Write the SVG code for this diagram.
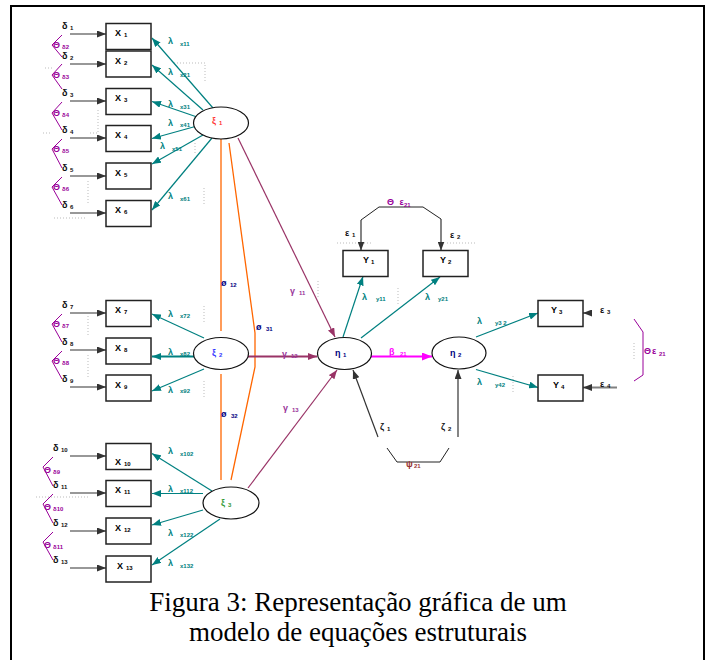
<svg xmlns="http://www.w3.org/2000/svg" width="706" height="660" viewBox="0 0 706 660">
<defs>
<style>
.t{font-family:"Liberation Sans",Arial,sans-serif;font-weight:bold;font-size:9px}
.s{font-size:6px}
.box{fill:#fff;stroke:#222;stroke-width:1.5}
.ell{fill:#fff;stroke:#111;stroke-width:1.2}
.tl{stroke:#008080;stroke-width:1.2;fill:none}
.dk{stroke:#333;stroke-width:1.2;fill:none}
.gm{stroke:#993366;stroke-width:1.2;fill:none}
.or{stroke:#FF6600;stroke-width:1.3;fill:none}
.pu{stroke:#990099;stroke-width:1;fill:none}
.bl{stroke:#222;stroke-width:1;fill:none}
.dot{stroke:#bbb;stroke-width:1;stroke-dasharray:1 2;fill:none}
.ct{fill:#008080}
.cp{fill:#990099}
.cg{fill:#993399}
.cn{fill:#000080}
.cap{font-family:"Liberation Serif","Times New Roman",serif;font-size:27px;fill:#000}
</style>
<marker id="ht" markerUnits="userSpaceOnUse" markerWidth="9" markerHeight="7" refX="9" refY="3.5" orient="auto"><path d="M0,0 L9,3.5 L0,7 z" fill="#008080"/></marker>
<marker id="hd" markerUnits="userSpaceOnUse" markerWidth="9" markerHeight="7" refX="9" refY="3.5" orient="auto"><path d="M0,0 L9,3.5 L0,7 z" fill="#333"/></marker>
<marker id="hg" markerUnits="userSpaceOnUse" markerWidth="9" markerHeight="7" refX="9" refY="3.5" orient="auto"><path d="M0,0 L9,3.5 L0,7 z" fill="#993366"/></marker>
<marker id="hm" markerUnits="userSpaceOnUse" markerWidth="10" markerHeight="8" refX="10" refY="4" orient="auto"><path d="M0,0 L10,4 L0,8 z" fill="#FF00FF"/></marker>
</defs>
<rect width="706" height="660" fill="#fff"/>
<path d="M11,662 V6 H704 V662" fill="none" stroke="#000" stroke-width="2"/>

<g id="artifacts">
<path class="dot" d="M174,63 H205 V81"/>
<path class="dot" d="M45,68 H52"/>
<path class="dot" d="M98,110 V133 H88"/>
<path class="dot" d="M43,133 H52"/>
<path class="dot" d="M88,181 V204"/>
<path class="dot" d="M54,218 H86"/>
<path class="dot" d="M195,143 V155"/>
<path class="dot" d="M204,188 V205"/>
<path class="dot" d="M204,306 V323"/>
<path class="dot" d="M88,316 V335"/>
<path class="dot" d="M88,355 V378"/>
<path class="dot" d="M204,381 V398"/>
<path class="dot" d="M36,497 H88"/>
<path class="dot" d="M318,281 V299"/>
<path class="dot" d="M398,288 V304"/>
<path class="dot" d="M337,243 H372"/>
<path class="dot" d="M447,243 H475"/>
<path class="dot" d="M513,376 V393"/>
<path class="dot" d="M634,343 V360"/>
</g>

<g id="connectors">
<g class="dk" marker-end="url(#hd)">
<line x1="70" y1="34" x2="106" y2="34"/>
<line x1="70" y1="64" x2="106" y2="64"/>
<line x1="70" y1="101" x2="106" y2="101"/>
<line x1="70" y1="138" x2="106" y2="138"/>
<line x1="70" y1="176" x2="106" y2="176"/>
<line x1="70" y1="213" x2="106" y2="213"/>
<line x1="70" y1="313" x2="106" y2="313"/>
<line x1="70" y1="350" x2="106" y2="350"/>
<line x1="70" y1="387" x2="106" y2="387"/>
<line x1="70" y1="456" x2="106" y2="456"/>
<line x1="70" y1="493" x2="106" y2="493"/>
<line x1="70" y1="531" x2="106" y2="531"/>
<line x1="70" y1="568" x2="106" y2="568"/>
</g>
<g class="pu">
<path d="M62,35 L52,45 L62,57"/>
<path d="M62,64 L52,75 L62,89"/>
<path d="M62,102 L52,113 L62,130"/>
<path d="M62,139 L52,149 L62,168"/>
<path d="M62,177 L52,187 L62,205"/>
<path d="M62,314 L52,324 L62,342"/>
<path d="M62,351 L52,361 L62,379"/>
<path d="M53,457 L43,467 L53,486"/>
<path d="M53,494 L43,504 L53,523"/>
<path d="M53,532 L43,542 L53,560"/>
</g>
<g class="tl" marker-end="url(#ht)">
<line x1="213" y1="108" x2="152" y2="38"/>
<line x1="203" y1="110" x2="152" y2="65"/>
<line x1="197" y1="117" x2="152" y2="101.5"/>
<line x1="197" y1="126" x2="152" y2="138.5"/>
<line x1="203" y1="135" x2="152" y2="164"/>
<line x1="212" y1="138" x2="152" y2="210"/>
<line x1="204" y1="338" x2="152" y2="314"/>
<line x1="194" y1="356.5" x2="152" y2="356.5" stroke-width="2"/>
<line x1="204" y1="369" x2="152" y2="391"/>
<line x1="212" y1="491" x2="152" y2="453.5"/>
<line x1="203" y1="493.5" x2="152" y2="493.5"/>
<line x1="203" y1="510" x2="152" y2="525"/>
<line x1="220" y1="519" x2="152" y2="565"/>
</g>
<line class="or" x1="221" y1="139" x2="221" y2="331"/>
<line class="or" x1="221" y1="374" x2="221" y2="480"/>
<polyline class="or" points="229,143 255,333 255,367 231,480"/>
<g class="gm" marker-end="url(#hg)">
<line x1="238" y1="138" x2="335" y2="337"/>
<line x1="248" y1="356.5" x2="317" y2="356.5" stroke-width="2"/>
<line x1="248" y1="488" x2="337" y2="370"/>
</g>
<line x1="371" y1="356.5" x2="432" y2="356.5" stroke="#FF00FF" stroke-width="2" marker-end="url(#hm)"/>
<g class="tl" marker-end="url(#ht)">
<line x1="343" y1="337" x2="363" y2="276.5"/>
<line x1="361" y1="338" x2="440" y2="277"/>
<line x1="476" y1="337" x2="538" y2="313"/>
<line x1="476" y1="369.5" x2="538" y2="387.5"/>
</g>
<g class="dk" marker-end="url(#hd)">
<line x1="378" y1="437" x2="353" y2="370"/>
<line x1="458" y1="437" x2="458" y2="370"/>
<line x1="361" y1="220" x2="361" y2="250.5"/>
<line x1="441" y1="219" x2="441" y2="250.5"/>
<line x1="590" y1="313" x2="583" y2="313"/>
</g>
<line x1="617" y1="387.5" x2="583" y2="387.5" stroke="#808080" stroke-width="2.2" marker-end="url(#hd)"/>
<path class="bl" d="M361,220 L379,207 L423,207 L441,219"/>
<path class="bl" d="M387,448 L397,462 L440,462 L449,448"/>
<path class="pu" d="M634,319 L643,332 L643,375 L634,381"/>
</g>

<g id="labels">
<g class="t" fill="#111">
<text x="62" y="28.5">δ<tspan class="s" x="70" y="30">1</tspan></text>
<text x="62" y="58.5">δ<tspan class="s" x="70" y="60">2</tspan></text>
<text x="62" y="95.5">δ<tspan class="s" x="70" y="97">3</tspan></text>
<text x="62" y="132.5">δ<tspan class="s" x="70" y="134">4</tspan></text>
<text x="62" y="170.5">δ<tspan class="s" x="70" y="172">5</tspan></text>
<text x="62" y="207.5">δ<tspan class="s" x="70" y="209">6</tspan></text>
<text x="62" y="307.5">δ<tspan class="s" x="70" y="309">7</tspan></text>
<text x="62" y="344.5">δ<tspan class="s" x="70" y="346">8</tspan></text>
<text x="62" y="381.5">δ<tspan class="s" x="70" y="383">9</tspan></text>
<text x="53" y="450.5">δ<tspan class="s" x="61" y="452">10</tspan></text>
<text x="53" y="487.5">δ<tspan class="s" x="61" y="489">11</tspan></text>
<text x="53" y="525.5">δ<tspan class="s" x="61" y="527">12</tspan></text>
<text x="53" y="562.5">δ<tspan class="s" x="61" y="564">13</tspan></text>
</g>
<g class="t cp">
<text x="53" y="48">Θ<tspan class="s" x="62" y="49">δ2</tspan></text>
<text x="53" y="78">Θ<tspan class="s" x="62" y="79">δ3</tspan></text>
<text x="53" y="116">Θ<tspan class="s" x="62" y="117">δ4</tspan></text>
<text x="53" y="152">Θ<tspan class="s" x="62" y="153">δ5</tspan></text>
<text x="53" y="190">Θ<tspan class="s" x="62" y="191">δ6</tspan></text>
<text x="53" y="327">Θ<tspan class="s" x="62" y="328">δ7</tspan></text>
<text x="53" y="364">Θ<tspan class="s" x="62" y="365">δ8</tspan></text>
<text x="44" y="473">Θ<tspan class="s" x="53" y="474">δ9</tspan></text>
<text x="44" y="510">Θ<tspan class="s" x="53" y="511">δ10</tspan></text>
<text x="44" y="548">Θ<tspan class="s" x="53" y="549">δ11</tspan></text>
</g>
<g class="t ct">
<text x="168" y="44">λ<tspan class="s" x="180" y="46">x11</tspan></text>
<text x="168" y="75">λ<tspan class="s" x="180" y="77">x21</tspan></text>
<text x="168" y="107">λ<tspan class="s" x="180" y="109">x31</tspan></text>
<text x="168" y="126">λ<tspan class="s" x="180" y="127">x41</tspan></text>
<text x="160" y="149">λ<tspan class="s" x="172" y="151">x51</tspan></text>
<text x="168" y="199">λ<tspan class="s" x="180" y="201">x61</tspan></text>
<text x="168" y="317">λ<tspan class="s" x="180" y="318">x72</tspan></text>
<text x="168" y="355">λ<tspan class="s" x="180" y="356">x82</tspan></text>
<text x="168" y="393">λ<tspan class="s" x="180" y="393">x92</tspan></text>
<text x="168" y="454">λ<tspan class="s" x="180" y="456">x102</tspan></text>
<text x="168" y="492">λ<tspan class="s" x="180" y="493">x112</tspan></text>
<text x="168" y="536">λ<tspan class="s" x="180" y="537">x122</tspan></text>
<text x="168" y="566">λ<tspan class="s" x="180" y="568">x132</tspan></text>
<text x="362" y="300">λ<tspan class="s" x="376" y="301">y11</tspan></text>
<text x="425" y="300">λ<tspan class="s" x="438" y="301">y21</tspan></text>
<text x="477" y="324">λ<tspan class="s" x="495" y="325">y3 2</tspan></text>
<text x="477" y="385">λ<tspan class="s" x="495" y="387">y42</tspan></text>
</g>
<g class="t cn">
<text x="221" y="286">ø<tspan class="s" x="230" y="287">12</tspan></text>
<text x="256" y="330">ø<tspan class="s" x="266" y="331">31</tspan></text>
<text x="221" y="417">ø<tspan class="s" x="231" y="418">32</tspan></text>
</g>
<g class="t cg">
<text x="290" y="294">γ<tspan class="s" x="299" y="295">11</tspan></text>
<text x="282" y="357">γ<tspan class="s" x="291" y="358">12</tspan></text>
<text x="283" y="411">γ<tspan class="s" x="292" y="412">13</tspan></text>
</g>
<text class="t" x="389" y="355" fill="#FF00FF">β<tspan class="s" x="400" y="356">21</tspan></text>
<g class="t" fill="#111">
<text x="380" y="430">ζ<tspan class="s" x="387" y="431">1</tspan></text>
<text x="441" y="430">ζ<tspan class="s" x="448" y="431">2</tspan></text>
<text x="345" y="236">ε<tspan class="s" x="352" y="237">1</tspan></text>
<text x="450" y="238">ε<tspan class="s" x="457" y="239">2</tspan></text>
<text x="600" y="313">ε<tspan class="s" x="607" y="314">3</tspan></text>
<text x="600" y="387">ε<tspan class="s" x="607" y="388">4</tspan></text>
</g>
<text class="t" x="406" y="467" fill="#993333">ψ<tspan class="s" x="414" y="468">21</tspan></text>
<text class="t cp" x="387" y="205">Θ<tspan x="397"> ε</tspan><tspan class="s" x="404" y="207">21</tspan></text>
<text class="t cp" x="644" y="354">Θ<tspan x="652">ε</tspan><tspan class="s" x="659" y="356">21</tspan></text>
</g>

<g id="X1"><rect class="box" x="106" y="23.5" width="45" height="26"/><text class="t" x="115" y="36">X<tspan class="s" x="124" y="37">1</tspan></text></g>
<g id="X2"><rect class="box" x="106" y="51" width="45" height="26"/><text class="t" x="115" y="63.5">X<tspan class="s" x="124" y="64.5">2</tspan></text></g>
<g id="X3"><rect class="box" x="106" y="88.5" width="45" height="26"/><text class="t" x="115" y="101">X<tspan class="s" x="124" y="102">3</tspan></text></g>
<g id="X4"><rect class="box" x="106" y="125.5" width="45" height="26"/><text class="t" x="115" y="138">X<tspan class="s" x="124" y="139">4</tspan></text></g>
<g id="X5"><rect class="box" x="106" y="163" width="45" height="26"/><text class="t" x="115" y="175.5">X<tspan class="s" x="124" y="176.5">5</tspan></text></g>
<g id="X6"><rect class="box" x="106" y="200.5" width="45" height="26"/><text class="t" x="115" y="213">X<tspan class="s" x="124" y="214">6</tspan></text></g>
<g id="X7"><rect class="box" x="106" y="300.5" width="45" height="26"/><text class="t" x="115" y="313">X<tspan class="s" x="124" y="314">7</tspan></text></g>
<g id="X8"><rect class="box" x="106" y="338" width="45" height="26"/><text class="t" x="115" y="350.5">X<tspan class="s" x="124" y="351.5">8</tspan></text></g>
<g id="X9"><rect class="box" x="106" y="375" width="45" height="26"/><text class="t" x="115" y="387.5">X<tspan class="s" x="124" y="388.5">9</tspan></text></g>
<g id="X10"><rect class="box" x="106" y="443.5" width="45" height="26"/><text class="t" x="115" y="465">X<tspan class="s" x="124" y="466">10</tspan></text></g>
<g id="X11"><rect class="box" x="106" y="480.5" width="45" height="26"/><text class="t" x="115" y="493">X<tspan class="s" x="124" y="494">11</tspan></text></g>
<g id="X12"><rect class="box" x="106" y="518" width="45" height="26"/><text class="t" x="115" y="530.5">X<tspan class="s" x="124" y="531.5">12</tspan></text></g>
<g id="X13"><rect class="box" x="106" y="556" width="45" height="26"/><text class="t" x="117" y="568.5">X<tspan class="s" x="126" y="569.5">13</tspan></text></g>

<g id="Y1"><rect class="box" x="343" y="250.5" width="45" height="26"/><text class="t" x="363" y="263">Y<tspan class="s" x="371" y="264">1</tspan></text></g>
<g id="Y2"><rect class="box" x="423" y="250.5" width="45" height="26"/><text class="t" x="440" y="263">Y<tspan class="s" x="448" y="264">2</tspan></text></g>
<g id="Y3"><rect class="box" x="538" y="300.5" width="45" height="26"/><text class="t" x="551" y="313">Y<tspan class="s" x="559" y="314">3</tspan></text></g>
<g id="Y4"><rect class="box" x="538" y="375" width="45" height="26"/><text class="t" x="553" y="387.5">Y<tspan class="s" x="561" y="388.5">4</tspan></text></g>

<g id="xi1"><ellipse class="ell" cx="221" cy="123" rx="27.5" ry="16"/><text class="t" x="212" y="124" fill="#FF3333" font-size="10">ξ<tspan class="s" x="219" y="125">1</tspan></text></g>
<g id="xi2"><ellipse class="ell" cx="221" cy="353.5" rx="27.5" ry="16"/><text class="t" x="212" y="356" fill="#3333FF" font-size="10">ξ<tspan class="s" x="219" y="357">2</tspan></text></g>
<g id="xi3"><ellipse class="ell" cx="231" cy="503" rx="28" ry="16"/><text class="t" x="221" y="506" fill="#339933" font-size="10">ξ<tspan class="s" x="228" y="507">3</tspan></text></g>
<g id="eta1"><ellipse class="ell" cx="344.5" cy="353.5" rx="27" ry="16"/><text class="t cn" x="335" y="356" font-size="10">η<tspan class="s" x="343" y="357">1</tspan></text></g>
<g id="eta2"><ellipse class="ell" cx="459" cy="353" rx="27" ry="16"/><text class="t cn" x="450" y="356" font-size="10">η<tspan class="s" x="458" y="357">2</tspan></text></g>

<g id="caption">
<text class="cap" x="358" y="611" text-anchor="middle">Figura 3: Representação gráfica de um</text>
<text class="cap" x="358" y="641" text-anchor="middle">modelo de equações estruturais</text>
</g>
</svg>
